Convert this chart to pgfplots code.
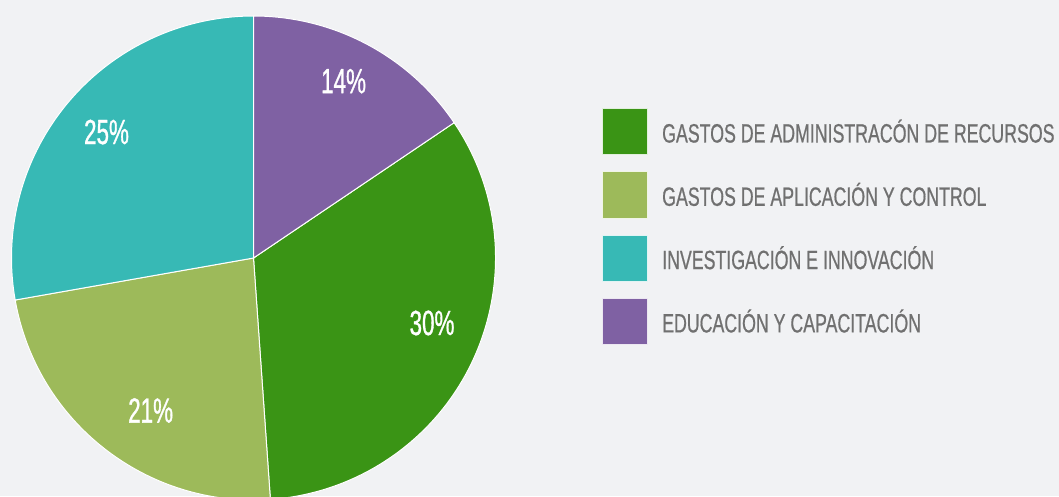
\documentclass[border=0pt]{standalone}
\usepackage{pgfplots}
\pgfplotsset{compat=1.18}
\usepackage{pgfplotstable}
\usepackage{fontspec}
\setmainfont[FakeStretch=0.67,FakeBold=0.6]{Liberation Sans}
\newfontfamily\pctfont[FakeStretch=0.64,FakeBold=0.9]{Liberation Sans}

\definecolor{bg}{HTML}{F1F2F4}
\definecolor{cgreen}{HTML}{3A9415}
\definecolor{clight}{HTML}{9DBA5A}
\definecolor{cteal}{HTML}{37B9B5}
\definecolor{cpurple}{HTML}{7F61A3}
\definecolor{txt}{HTML}{707070}

% slices in legend order; the last one starts at 12 o'clock
\pgfplotstableread{
val col     la   lr    name
30  cgreen  6    0.785 {GASTOS DE ADMINISTRACÓN DE RECURSOS}
21  clight  4    0.76  {GASTOS DE APLICACIÓN Y CONTROL}
25  cteal   -0.6 0.80  {INVESTIGACIÓN E INNOVACIÓN}
14  cpurple 1    0.82  {EDUCACIÓN Y CAPACITACIÓN}
}\slices

\begin{document}
\begin{tikzpicture}
\useasboundingbox (0,0) rectangle (1059pt,496pt);
\fill[bg] (0,0) rectangle (1059pt,496pt);
\clip (0,0) rectangle (1059pt,496pt);
\begin{axis}[
	at={(0,0)}, anchor=south west,
	width=1059pt, height=496pt, scale only axis,
	xmin=0, xmax=1059, ymin=0, ymax=496,
	hide axis, clip=false,
]
\pgfplotsextra{%
	\pgfplotstablegetrowsof{\slices}
	\pgfmathtruncatemacro\last{\pgfplotsretval-1}
	\def\tot{0}
	\pgfplotsforeachungrouped \i in {0,...,\last}{%
		\pgfplotstablegetelem{\i}{val}\of\slices
		\pgfmathsetmacro\tot{\tot+\pgfplotsretval}}
	\pgfplotstablegetelem{\last}{val}\of\slices
	\pgfmathsetmacro\ang{90-360*\pgfplotsretval/\tot}
	\pgfplotsforeachungrouped \i in {0,...,\last}{%
		\pgfplotstablegetelem{\i}{val}\of\slices \let\sval\pgfplotsretval
		\pgfplotstablegetelem{\i}{col}\of\slices \let\scol\pgfplotsretval
		\pgfplotstablegetelem{\i}{la}\of\slices \let\sla\pgfplotsretval
		\pgfplotstablegetelem{\i}{lr}\of\slices \let\slr\pgfplotsretval
		\pgfplotstablegetelem{\i}{name}\of\slices \let\sname\pgfplotsretval
		\pgfmathsetmacro\endang{\ang-360*\sval/\tot}
		\pgfmathsetmacro\midang{(\ang+\endang)/2+\sla}
		\pgfmathsetmacro\rr{\slr*242}
		\fill[\scol, draw=white, line width=1pt] (axis cs:253.5,238) -- ++(\ang:242pt)
			arc[start angle=\ang, end angle=\endang, radius=242pt] -- cycle;
		\path (axis cs:253.5,238) ++(\midang:\rr pt) node[text=white,
			font=\pctfont\fontsize{35}{35}\selectfont] {\sval\%};
		% legend entry
		\pgfmathsetmacro\ly{496-131.5-63.3*\i}
		\fill[\scol, draw=white!85!\scol, line width=0.6pt]
			(axis cs:602,\ly-23) rectangle (axis cs:647,\ly+23);
		\node[anchor=base west, inner sep=0pt, text=txt,
			font=\fontsize{26.5}{30}\selectfont] at (axis cs:662,\ly-11) {\sname};
		\let\ang\endang
	}%
}
\end{axis}
\end{tikzpicture}
\end{document}
